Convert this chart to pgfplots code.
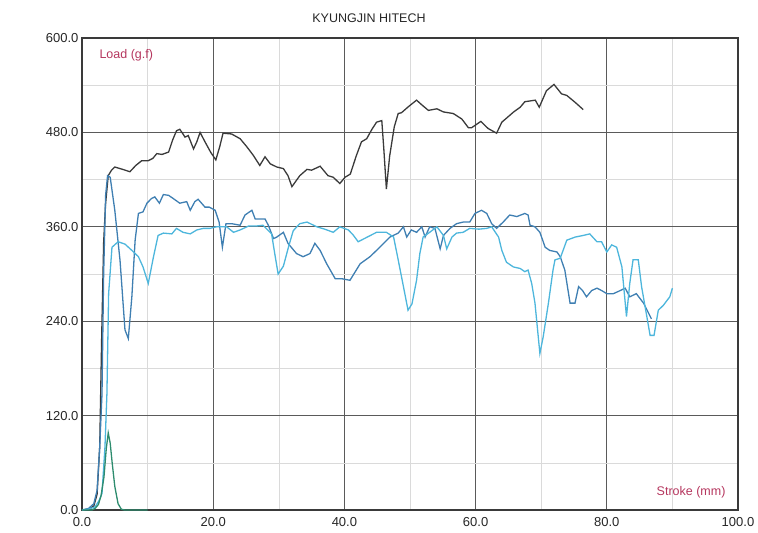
\documentclass[border=0pt]{standalone}
\usepackage{pgfplots}
\pgfplotsset{compat=1.18}
\usepackage{fontspec}
\setmainfont{Liberation Sans}
\definecolor{cBlack}{HTML}{3A3A3A}
\definecolor{cDark}{HTML}{3F7FB2}
\definecolor{cLight}{HTML}{4DB6DC}
\definecolor{cGreen}{HTML}{2E8C6E}
\definecolor{cLabel}{HTML}{B5365E}
\definecolor{cMajor}{HTML}{5A5A5A}
\definecolor{cMinor}{HTML}{DADADA}
\begin{document}
\begin{tikzpicture}
\useasboundingbox (-82pt,-23pt) rectangle (676pt,510pt);
\begin{axis}[
  at={(0pt,0pt)}, anchor=south west,
  scale only axis, width=656pt, height=472pt,
  xmin=0, xmax=100, ymin=0, ymax=600,
  xtick={0,20,...,100}, minor xtick={10,30,...,90},
  ytick={0,120,...,600}, minor ytick={60,180,...,540},
  grid=both,
  major grid style={cMajor, line width=0.7pt},
  minor grid style={cMinor, line width=0.6pt},
  major tick length=0pt, minor tick length=0pt,
  axis line style={cBlack, line width=1.1pt},
  tick label style={font=\fontsize{13}{15}\selectfont, text=black!85},
  xticklabel style={yshift=-4pt},
  title={KYUNGJIN HITECH},
  title style={at={(0.4375,1)}, anchor=center, yshift=14pt, font=\fontsize{12.5}{14}\selectfont, text=black!85},
  /pgf/number format/.cd, fixed, fixed zerofill, precision=1, 1000 sep={}, assume math mode=true,
]
\addplot[cBlack, line width=1.3pt] coordinates {
(0,0) (1,1) (1.8,5) (2.3,20) (2.7,80) (3.0,220) (3.3,340) (3.6,390) (4.0,425) (4.5,432) (5.0,436) (6.2,433) (7.3,430) (8.2,438) (9.1,444) (10.1,444) (10.8,447) (11.4,453) (12.2,452) (13.2,455) (13.8,470) (14.4,482) (14.9,484) (15.4,478) (15.7,474) (16.2,476) (17.0,459) (17.5,468) (18.0,480) (18.75,468) (19.6,455) (20.4,445) (21.0,462) (21.5,479) (22.8,478) (24.1,472) (25.1,462) (26.1,451) (27.1,438) (27.9,449) (28.7,440) (29.7,436) (30.7,434) (31.4,425) (32.0,411) (33.2,425) (34.3,433) (35.0,432) (36.3,437) (37.5,425) (38.3,423) (39.3,415) (40.1,423) (40.9,427) (41.8,450) (42.6,468) (43.4,472) (44.2,484) (44.9,493) (45.7,495) (46.0,460) (46.4,408) (46.9,450) (47.6,487) (48.2,504) (48.7,505) (49.8,513) (51.0,521) (51.8,515) (52.8,508) (54.1,510) (55.1,506) (56.6,504) (57.9,497) (58.9,486) (59.4,486) (60.8,494) (61.9,485) (63.2,479) (64.0,493) (65.8,506) (66.8,512) (67.5,519) (69.1,521) (69.7,512) (70.8,533) (71.95,541) (73.1,529) (73.9,527) (75.2,518) (76.4,509)
};
\addplot[cDark, line width=1.3pt] coordinates {
(0,0) (1,2) (1.8,8) (2.3,25) (2.7,80) (3.05,148) (3.3,300) (3.6,400) (3.9,425) (4.3,423) (5.0,381) (5.8,317) (6.55,229) (7.06,218) (7.6,271) (8.1,343) (8.6,377) (9.3,379) (9.9,390) (10.6,396) (11.1,398) (11.8,390) (12.4,401) (13.2,400) (13.9,396) (14.9,390) (15.96,392) (16.5,381) (17.2,392) (17.7,395) (18.75,385) (19.4,385) (20.3,381) (20.9,366) (21.4,334) (21.95,364) (22.8,364) (24.1,362) (24.85,375) (25.9,381) (26.4,370) (27.1,370) (27.9,370) (28.4,362) (29.2,345) (29.7,347) (30.7,353) (31.4,339) (32.7,326) (33.7,322) (34.75,326) (35.5,339) (36.3,330) (37.3,313) (38.6,294) (39.6,294) (40.85,292) (42.4,313) (43.9,322) (45.4,334) (46.95,347) (48.2,352) (49.0,360) (49.5,347) (50.2,356) (51.0,353) (51.8,360) (52.3,347) (53.0,360) (53.8,358) (54.6,332) (55.1,349) (56.1,358) (57.1,364) (58.1,366) (59.1,366) (59.9,377) (60.9,381) (61.7,377) (62.45,364) (63.2,358) (64.2,366) (65.2,375) (66.3,373) (67.5,377) (68.0,375) (68.3,362) (69.05,360) (69.8,353) (70.6,334) (71.3,330) (72.4,328) (72.9,322) (73.6,305) (74.4,263) (75.15,263) (75.7,284) (76.3,279) (76.9,271) (77.7,279) (78.5,282) (79.2,279) (80.0,275) (81.0,275) (81.8,278) (82.8,282) (83.5,271) (84.5,275) (85.6,263) (86.8,243)
};
\addplot[cLight, line width=1.3pt] coordinates {
(0,0) (1,1) (2,4) (2.6,12) (3.05,21) (3.5,80) (3.8,148) (4.06,275) (4.57,334) (5.5,341) (6.55,338) (7.6,330) (8.6,322) (9.3,309) (10.1,288) (10.9,322) (11.6,349) (12.4,352) (13.7,351) (14.4,358) (15.4,353) (16.5,351) (17.5,356) (18.5,358) (19.5,358) (20.5,360) (22.05,360) (23.1,353) (24.1,356) (25.4,361) (26.6,361) (27.6,362) (28.9,351) (29.4,325) (29.9,300) (30.7,310) (31.5,335) (32.2,355) (33.2,364) (34.3,366) (35.8,360) (37.0,357) (38.3,353) (39.3,360) (40.6,356) (41.3,350) (42.1,341) (43.5,347) (44.9,353) (46.4,353) (47.5,347) (48.2,318) (49.0,284) (49.7,254) (50.3,262) (51.0,292) (51.5,326) (52.0,347) (53.0,353) (54.1,360) (55.1,349) (55.6,332) (56.4,347) (57.1,352) (58.1,353) (59.1,358) (60.5,357) (61.7,358) (62.45,360) (63.5,347) (64.0,330) (64.7,315) (65.75,309) (66.8,307) (67.5,303) (68.0,305) (68.55,288) (69.05,263) (69.8,199) (70.3,220) (71.1,263) (71.8,305) (72.1,318) (72.9,320) (73.9,343) (75.2,347) (76.4,349) (77.4,351) (78.5,341) (79.2,341) (80.0,328) (80.75,337) (81.5,334) (82.3,309) (83.0,246) (83.5,288) (84.0,318) (84.8,318) (85.3,284) (86.1,246) (86.6,222) (87.2,222) (87.85,254) (88.6,260) (89.6,271) (90.0,282)
};
\addplot[cGreen, line width=1.3pt] coordinates {
(0,0) (1.5,0) (2.0,2) (2.5,7) (2.9,18) (3.35,42) (3.7,78) (4.0,98) (4.3,85) (4.6,60) (5.0,30) (5.5,8) (6.0,1) (6.5,0) (10,0)
};
\node[anchor=west, text=cLabel, font=\fontsize{12.5}{14}\selectfont] at ([xshift=14pt,yshift=-17pt]rel axis cs:0,1) {Load (g.f)};
\node[anchor=east, text=cLabel, font=\fontsize{12.5}{14}\selectfont] at ([xshift=-9pt,yshift=18pt]rel axis cs:1,0) {Stroke (mm)};
\end{axis}
\end{tikzpicture}
\end{document}
